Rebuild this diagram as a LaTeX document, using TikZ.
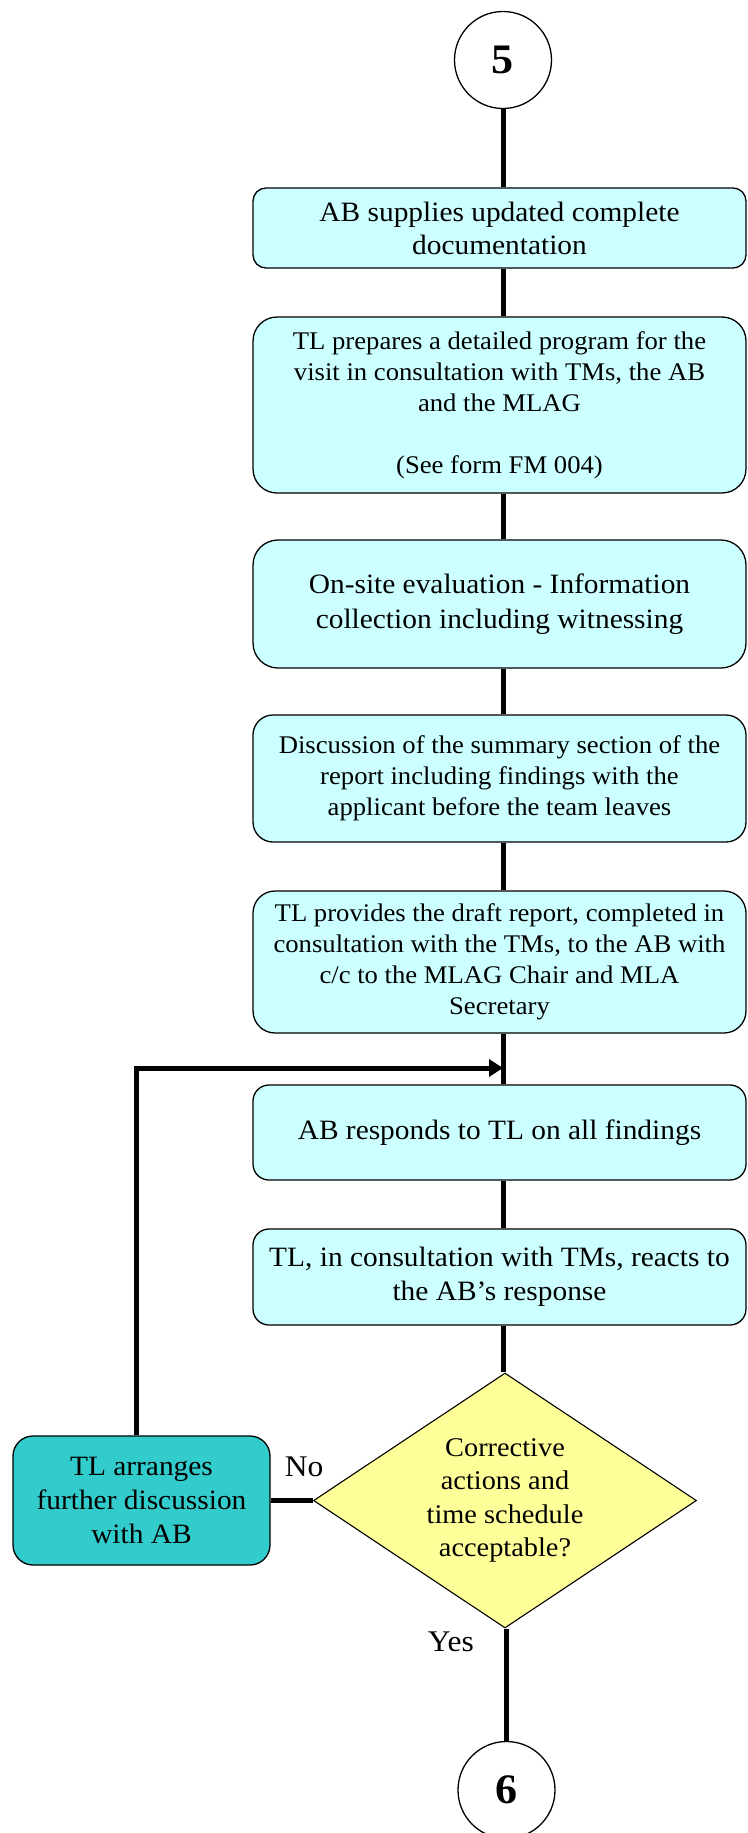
\documentclass[tikz,border=0pt]{standalone}
\usepackage{fontspec}
\setmainfont{Liberation Serif}[FakeStretch=1.05]
\usetikzlibrary{shapes.geometric,arrows.meta}
\definecolor{procfill}{HTML}{CCFFFF}
\definecolor{loopfill}{HTML}{33CCCC}
\definecolor{decfill}{HTML}{FFFF99}
\begin{document}
\begin{tikzpicture}[x=1pt,y=-1pt]
% Styles
\tikzset{
  connector/.style={circle, draw, line width=1.3pt, fill=white, minimum size=97pt, inner sep=0pt, font=\fontsize{42}{42}\selectfont\bfseries},
  process/.style={rectangle, draw, line width=1.3pt, fill=procfill, minimum width=493pt, align=center, inner sep=0pt},
  bigtext/.style={font=\fontsize{28}{34}\selectfont},
  smalltext/.style={font=\fontsize{25.4}{31}\selectfont},
  decision/.style={diamond, aspect=1.5, draw, line width=1.1pt, fill=decfill, minimum width=383pt, minimum height=255pt, align=center, inner sep=0pt, font=\fontsize{27}{33.3}\selectfont},
  loopbox/.style={rectangle, rounded corners=20pt, draw, line width=1.3pt, fill=loopfill, minimum width=257pt, minimum height=129pt, align=center, inner sep=0pt, font=\fontsize{28}{34}\selectfont},
  flow/.style={line width=5pt},
  answer/.style={inner sep=0pt, font=\fontsize{30}{30}\selectfont}
}
\useasboundingbox (0,0) rectangle (747,1833);

% Connector 5
\node[connector] (start5) at (503,60) {5};

% AB supplies documentation
\node[process, rounded corners=13pt, minimum height=80pt, font=\fontsize{28}{33}\selectfont] (supplies_box) at (499.5,228) {AB supplies updated complete\\documentation};

% TL prepares program
\node[process, smalltext, rounded corners=24pt, minimum height=176pt] (program_box) at (499.5,405) {TL prepares a detailed program for the\\visit in consultation with TMs, the AB\\and the MLAG\\[31pt](See form FM 004)};

% On-site evaluation
\node[process, rounded corners=25pt, minimum height=128pt, font=\fontsize{28}{35}\selectfont] (onsite_box) at (499.5,604) {On-site evaluation - Information\\collection including witnessing};

% Discussion of summary
\node[process, smalltext, rounded corners=20pt, minimum height=127pt] (summary_box) at (499.5,778.5) {Discussion of the summary section of the\\report including findings with the\\applicant before the team leaves};

% Draft report
\node[process, smalltext, rounded corners=22pt, minimum height=142pt] (draft_box) at (499.5,962) {TL provides the draft report, completed in\\consultation with the TMs, to the AB with\\c/c to the MLAG Chair and MLA\\Secretary};

% AB responds
\node[process, bigtext, rounded corners=16pt, minimum height=95pt] (responds_box) at (499.5,1132.5) {AB responds to TL on all findings};

% TL reacts
\node[process, bigtext, rounded corners=16pt, minimum height=96pt] (reacts_box) at (499.5,1277) {TL, in consultation with TMs, reacts to\\the AB’s response};

% Decision
\node[decision] (accept_dec) at (505,1500.5) {Corrective\\actions and\\time schedule\\acceptable?};

% Further discussion
\node[loopbox] (arrange_box) at (141.5,1500.5) {TL arranges\\further discussion\\with AB};

% Connector 6
\node[connector] (end6) at (506.5,1790) {6};

% Loop target
\coordinate (loop_in) at (503,1068);

% Flow lines
\draw[flow] (start5) -- (start5 |- supplies_box.north);
\draw[flow] (supplies_box.south -| start5) -- (program_box.north -| start5);
\draw[flow] (program_box.south -| start5) -- (onsite_box.north -| start5);
\draw[flow] (onsite_box.south -| start5) -- (summary_box.north -| start5);
\draw[flow] (summary_box.south -| start5) -- (draft_box.north -| start5);
\draw[flow] (draft_box.south -| start5) -- (responds_box.north -| start5);
\draw[flow] (responds_box.south -| start5) -- (reacts_box.north -| start5);
\draw[flow] (reacts_box.south -| start5) -- (accept_dec.north -| start5);
\draw[flow] (accept_dec.west) -- (arrange_box.east);
\draw[flow] (accept_dec.south -| end6) -- (end6);
\draw[flow, -{Triangle[length=14pt,width=17pt]}] ([xshift=-5.5pt]arrange_box.north) |- (loop_in);

% Answers
\node[answer, anchor=south west, xshift=14pt, yshift=24pt] (no_label) at (arrange_box.east) {No};
\node[answer, anchor=north east, xshift=-31pt, yshift=-3pt] (yes_label) at (accept_dec.south) {Yes};

\end{tikzpicture}
\end{document}
